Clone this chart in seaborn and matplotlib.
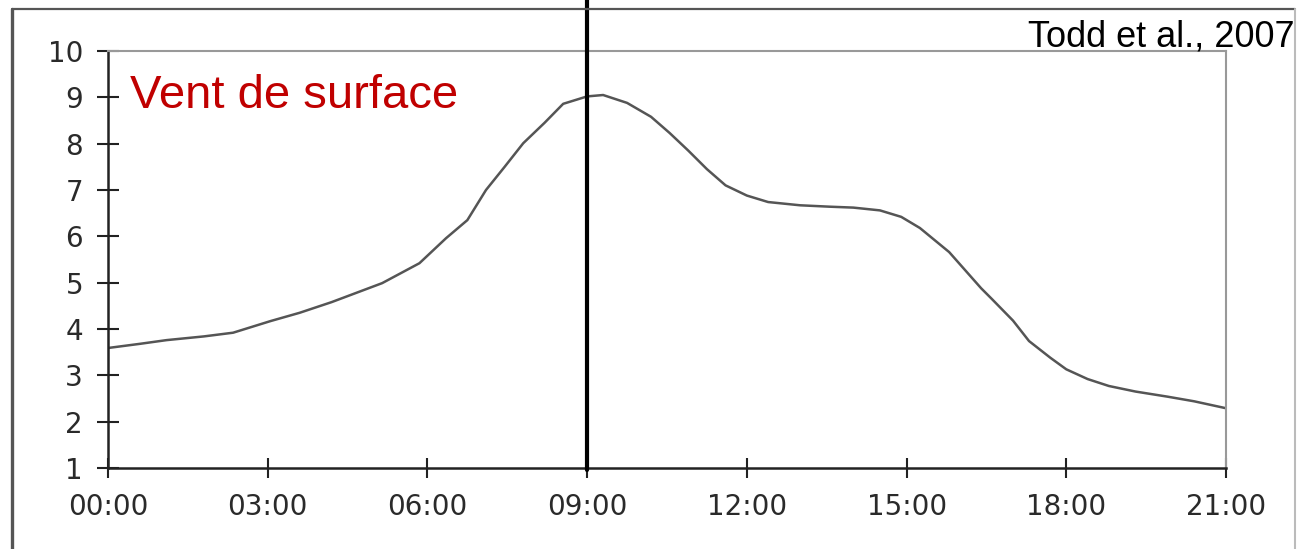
import matplotlib
matplotlib.use("Agg")
import matplotlib.pyplot as plt
import seaborn as sns
import pandas as pd
from matplotlib.lines import Line2D

# hours since 00:00 and surface wind values
hours = [0.0, 0.6, 1.1, 1.8, 2.35, 3.05, 3.6, 4.2, 5.15, 5.85, 6.35, 6.75, 7.1,
         7.45, 7.8, 8.2, 8.55, 9.0, 9.3, 9.75, 10.2, 10.55, 10.9, 11.25, 11.6,
         12.0, 12.4, 13.0, 13.55, 14.0, 14.5, 14.9, 15.25, 15.8, 16.4, 16.6,
         17.0, 17.3, 17.7, 18.0, 18.4, 18.8, 19.3, 19.9, 20.4, 21.0]
wind = [3.59, 3.68, 3.76, 3.84, 3.92, 4.17, 4.35, 4.58, 4.99, 5.42, 5.96, 6.35, 7.0,
        7.5, 8.01, 8.45, 8.86, 9.02, 9.05, 8.88, 8.58, 8.23, 7.85, 7.45, 7.1,
        6.88, 6.74, 6.67, 6.64, 6.62, 6.56, 6.42, 6.18, 5.66, 4.88, 4.65,
        4.18, 3.74, 3.38, 3.13, 2.92, 2.77, 2.65, 2.54, 2.44, 2.29]
x_ticks = [0, 3, 6, 9, 12, 15, 18, 21]
x_labels = ["00:00", "03:00", "06:00", "09:00", "12:00", "15:00", "18:00", "21:00"]
y_ticks = list(range(1, 11))
marker_hour = 9

df = pd.DataFrame({"hour": hours, "wind": wind})

sns.set_style("white")
plt.rcParams['font.family'] = ['DejaVu Sans']

fig = plt.figure(figsize=(12.97, 5.49), dpi=100)
ax = fig.add_axes([108 / 1297, 1 - 468 / 549, (1226 - 108) / 1297, (468 - 51) / 549])

sns.lineplot(data=df, x="hour", y="wind", ax=ax, color="#555555", linewidth=1.8)
for ln in ax.get_lines():
    ln.set_solid_joinstyle("round")

ax.set_xlim(0, 21)
ax.set_ylim(1, 10)
ax.set_xticks(x_ticks)
ax.set_xticklabels(x_labels)
ax.set_yticks(y_ticks)
ax.set_xlabel("")
ax.set_ylabel("")

ax.tick_params(axis="both", direction="inout", width=1.5, color="#222222",
               labelcolor="#2a2a2a", labelsize=20, bottom=True, left=True)
ax.tick_params(axis="x", length=14, pad=11)
ax.tick_params(axis="y", length=16, pad=10)

for side in ["left", "bottom"]:
    ax.spines[side].set_color("#222222")
    ax.spines[side].set_linewidth(1.8)
for side in ["top", "right"]:
    ax.spines[side].set_color("#999999")
    ax.spines[side].set_linewidth(1.5)
    ax.spines[side].set_visible(True)

# vertical marker at 09:00 running up out of the frame
ax.axvline(marker_hour, ymin=-0.005, ymax=1.2, color="black", linewidth=3, clip_on=False, zorder=5)

# outer frame of the scanned figure
fig.add_artist(Line2D([12 / 1297, 12 / 1297], [0, 1 - 9 / 549], transform=fig.transFigure,
                      color="#555555", linewidth=2.4))
fig.add_artist(Line2D([12 / 1297, 1295 / 1297], [1 - 9 / 549, 1 - 9 / 549], transform=fig.transFigure,
                      color="#555555", linewidth=1.6))
fig.add_artist(Line2D([1295 / 1297, 1295 / 1297], [0, 1 - 9 / 549], transform=fig.transFigure,
                      color="#bbbbbb", linewidth=1.5))

fig.text(130 / 1297, 1 - 108 / 549, "Vent de surface", color="#c00000", fontsize=34,
         family="Liberation Sans", ha="left", va="baseline")
fig.text(1028 / 1297, 1 - 47 / 549, "Todd et al., 2007", color="black", fontsize=26,
         family="Liberation Sans", ha="left", va="baseline")

fig.savefig("out.png", dpi=100, facecolor="white")
